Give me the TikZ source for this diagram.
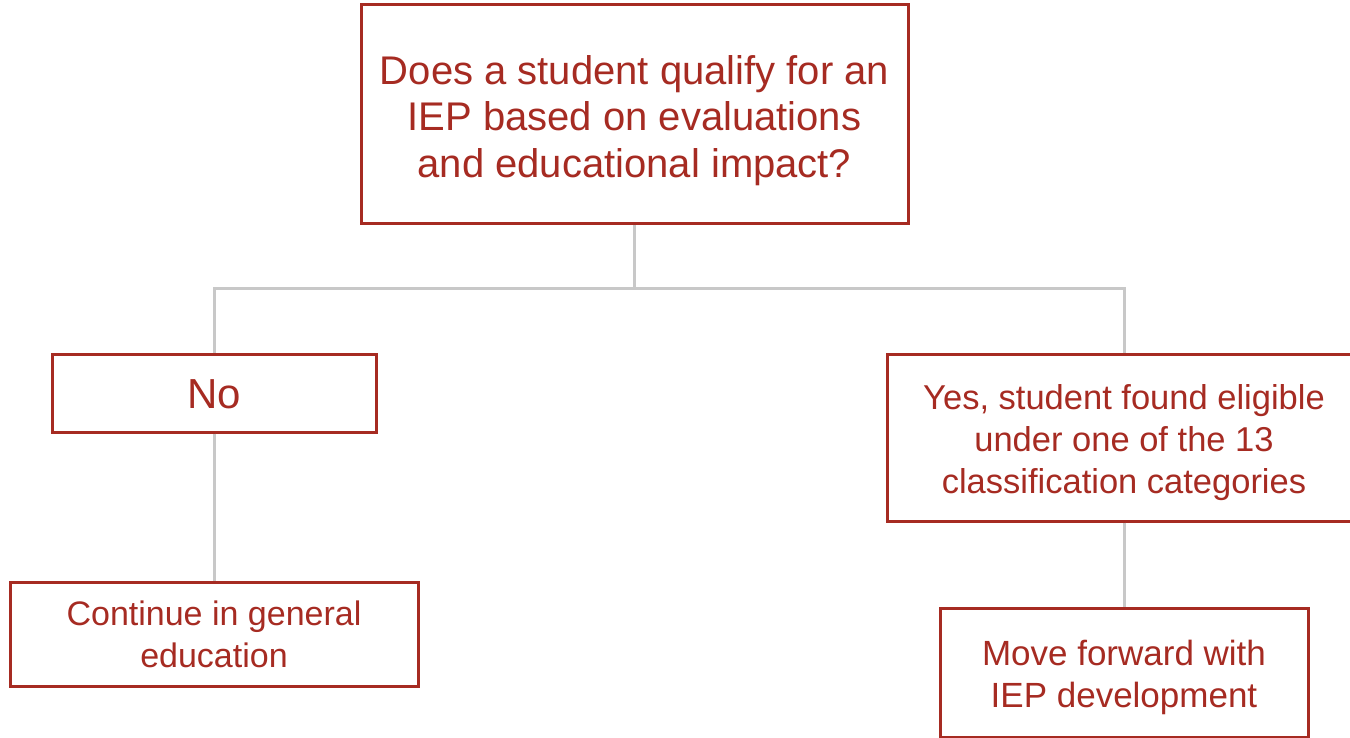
\documentclass[tikz,border=0pt]{standalone}
\usepackage{fontspec}
\setmainfont{Liberation Sans}
\definecolor{boxred}{HTML}{A62B22}
\definecolor{linkgray}{HTML}{C8C8C8}
\begin{document}
\begin{tikzpicture}[x=1pt,y=-1pt,
  stepbox/.style={draw=boxred, line width=3pt, fill=white,
    rectangle, inner sep=0pt},
  steptext/.style={text=boxred, align=center, inner sep=0pt},
  link/.style={draw=linkgray, line width=3pt}]
\useasboundingbox (0,0) rectangle (1350,738);
% boxes
\node[stepbox, minimum width=547pt, minimum height=219pt] (q) at (634.5,114.5) {};
\node[stepbox, minimum width=324pt, minimum height=78pt] (no) at (214,393) {};
\node[stepbox, minimum width=474pt, minimum height=167pt] (yes) at (1124,437.5) {};
\node[stepbox, minimum width=408pt, minimum height=104pt] (cont) at (214,634) {};
\node[stepbox, minimum width=368pt, minimum height=129pt] (move) at (1124,672.5) {};
% texts
\node[steptext, font=\fontsize{40}{46.5}\selectfont] (qt) at ([yshift=-6pt]q.center)
  {Does a student qualify for an\\IEP based on evaluations\\and educational impact?};
\node[steptext, font=\fontsize{42}{44}\selectfont] (not) at ([yshift=-1pt]no.center) {No};
\node[steptext, font=\fontsize{34.5}{42}\selectfont] (yest) at ([yshift=-5pt]yes.center)
  {Yes, student found eligible\\under one of the 13\\classification categories};
\node[steptext, font=\fontsize{34}{42}\selectfont] (contt) at (cont.center)
  {Continue in general\\education};
\node[steptext, font=\fontsize{35}{42}\selectfont] (movet) at ([yshift=-4.5pt]move.center)
  {Move forward with\\IEP development};
% connectors
\coordinate (split) at (634.5,289);
\draw[link] (q.south) -- (split);
\draw[link] (split) -| (no.north);
\draw[link] (split) -| (yes.north);
\draw[link] (no.south) -- (cont.north);
\draw[link] (yes.south) -- (move.north);
\end{tikzpicture}
\end{document}
